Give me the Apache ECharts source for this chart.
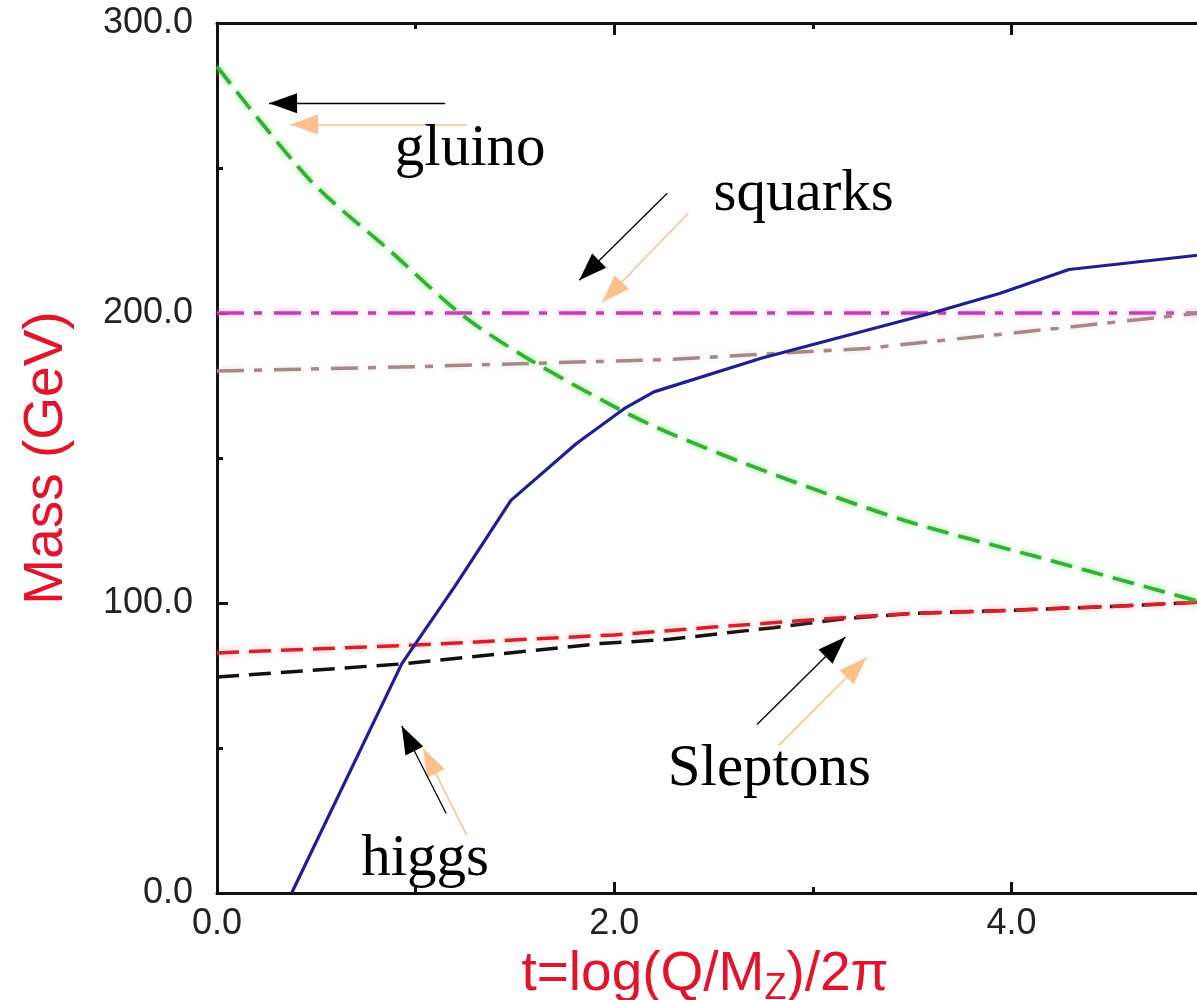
<!DOCTYPE html>
<html>
<head>
<meta charset="utf-8">
<script src="https://cdn.jsdelivr.net/npm/echarts@6/dist/echarts.min.js"></script>
<style>
  html, body { margin: 0; padding: 0; background: #ffffff; overflow: hidden; }
  /* the plot's right edge runs just past the page edge */
  #chart { width: 1210px; height: 1000px; }
</style>
</head>
<body>
<div id="chart"></div>
<script>
// Running masses versus t = log(Q/M_Z)/2pi, each curve as [t, mass in GeV]
const gluino = [[0, 285], [0.47, 245.7], [0.87, 221.5], [1.24, 199], [1.58, 183.7], [2.02, 167], [2.28, 158.5], [2.79, 144.7], [3.46, 128.5], [4.13, 115.9], [4.95, 100.4]];
const higgs = [[0.376, 0], [0.93, 79], [1.2, 106], [1.48, 135.4], [1.81, 155], [2.05, 167], [2.2, 172.8], [2.74, 184.4], [3.6, 200], [3.94, 206.7], [4.29, 215], [4.95, 220]];
const squarkUpper = [[0, 200], [1, 200], [2, 200], [3, 200], [4, 200], [4.95, 200]];
const squarkLower = [[0, 180], [1, 181.5], [1.93, 183.3], [2.28, 184], [3.27, 187.8], [4.23, 194.7], [4.95, 200]];
const sleptonUpper = [[0, 82.8], [1, 85.5], [2, 89], [2.5, 91.7], [3.16, 95], [3.5, 96.4], [4, 97.5], [4.5, 98.8], [4.95, 100.3]];
const sleptonLower = [[0, 74.5], [0.93, 79], [1.93, 86], [2.28, 87.5], [2.8, 91.5], [3.16, 94.6], [3.5, 96.4], [4, 97.5], [4.5, 98.8], [4.95, 100.3]];

// Axis ticks
const xTicks = [0, 2, 4];
const yTicks = [0, 100, 200, 300];

// Annotation names, their anchor points and arrows ([tail, tip]) in data units
const labelNames = ['gluino', 'squarks', 'Sleptons', 'higgs'];
const labelAnchors = [[1.275, 256.5], [2.954, 241], [2.781, 42.7], [1.048, 11.7]];
const arrowsDark = [
  [[1.149, 272.3], [0.262, 272.3]],
  [[2.267, 241.3], [1.824, 211.3]],
  [[2.719, 58.1], [3.164, 88.3]],
  [[1.154, 27.4], [0.930, 57.6]]
];
const arrowsLight = [
  [[1.259, 265], [0.368, 265]],
  [[2.373, 234.4], [1.94, 203.7]],
  [[2.828, 50.9], [3.27, 81.2]],
  [[1.258, 19.9], [1.039, 49.8]]
];

const chart = echarts.init(document.getElementById('chart'), null, { renderer: 'canvas' });

const frameColor = '#111111';
const tickFont = { fontFamily: 'Liberation Sans', fontSize: 36, color: '#222222' };
const titleColor = '#e3132b';

// Each arrow: a plain shaft with a filled triangular head whose tip sits on the end point
function arrowLines(list, color, width) {
  return list.map(function (a) {
    return [
      { coord: a[0], symbol: 'none', lineStyle: { color: color, width: width, type: 'solid' } },
      { coord: a[1], symbol: 'triangle', symbolSize: [20, 28], symbolOffset: [0, 14], itemStyle: { color: color } }
    ];
  });
}

function lineSeries(name, data, color, width, dash, glow, z, smooth) {
  return {
    name: name,
    type: 'line',
    data: data,
    showSymbol: false,
    symbol: 'none',
    smooth: smooth || false,
    z: z,
    lineStyle: {
      color: color,
      width: width,
      type: dash,
      cap: 'butt',
      shadowColor: glow || 'transparent',
      shadowBlur: glow ? 6 : 0
    },
    animation: false
  };
}

function frameAxis(position, tickLen) {
  return {
    type: 'value', position: position,
    axisLine: { show: true, onZero: false, lineStyle: { color: frameColor, width: 3 } },
    axisTick: { show: true, inside: true, length: tickLen, lineStyle: { color: frameColor, width: 3 } },
    minorTick: { show: true, splitNumber: 2, length: 6, lineStyle: { color: frameColor, width: 3 } },
    splitLine: { show: false },
    axisLabel: { show: false }
  };
}

const topAxis = Object.assign(frameAxis('top', 12), { min: 0, max: 5, interval: 2 });
const rightAxis = Object.assign(frameAxis('right', 11), { min: 0, max: 300, interval: 100 });

const option = {
  animation: false,
  backgroundColor: '#ffffff',
  grid: { left: 217, right: 0, top: 23, bottom: 107, containLabel: false, outerBoundsMode: 'none' },
  xAxis: [
    {
      type: 'value', min: 0, max: 5, interval: 2, position: 'bottom',
      name: 't=log(Q/M{sub|Z})/2\u03c0', nameLocation: 'middle', nameGap: 9,
      nameTextStyle: {
        fontFamily: 'Liberation Sans', fontSize: 55, color: titleColor,
        padding: [0, 17, 0, 0],
        rich: { sub: { fontFamily: 'Liberation Sans', fontSize: 36, color: titleColor, padding: [30, 0, 0, 0] } }
      },
      axisLine: { show: true, onZero: false, lineStyle: { color: frameColor, width: 3 } },
      axisTick: { show: true, inside: true, length: 11, lineStyle: { color: frameColor, width: 3 } },
      minorTick: { show: true, splitNumber: 2, length: 6, lineStyle: { color: frameColor, width: 3 } },
      splitLine: { show: false },
      axisLabel: Object.assign({
        margin: 13,
        formatter: function (v) { return xTicks.indexOf(v) >= 0 ? v.toFixed(1) : ''; }
      }, tickFont)
    },
    topAxis
  ],
  yAxis: [
    {
      type: 'value', min: 0, max: 300, interval: 100, position: 'left',
      name: 'Mass (GeV)', nameLocation: 'middle', nameGap: 143, nameRotate: 90,
      nameTextStyle: { fontFamily: 'Liberation Sans', fontSize: 55, color: titleColor },
      axisLine: { show: true, onZero: false, lineStyle: { color: frameColor, width: 3 } },
      axisTick: { show: true, inside: true, length: 11, lineStyle: { color: frameColor, width: 3 } },
      minorTick: { show: true, splitNumber: 2, length: 6, lineStyle: { color: frameColor, width: 3 } },
      splitLine: { show: false },
      axisLabel: Object.assign({
        margin: 24,
        formatter: function (v) { return yTicks.indexOf(v) >= 0 ? v.toFixed(1) : ''; }
      }, tickFont)
    },
    rightAxis
  ],
  series: [
    lineSeries('squarks (upper)', squarkUpper, '#c838b8', 3.5, [27, 10, 8, 12], 'rgba(255,150,230,0.8)', 3),
    lineSeries('squarks (lower)', squarkLower, '#a58888', 3.5, [27, 10, 8, 12], 'rgba(230,200,200,0.6)', 3),
    lineSeries('sleptons (lower)', sleptonLower, '#111111', 3.5, [22, 10], null, 4),
    lineSeries('sleptons (upper)', sleptonUpper, '#d8202c', 3.5, [22, 10], 'rgba(255,120,120,0.6)', 5),
    lineSeries('gluino', gluino, '#34b034', 3.8, [22, 10], 'rgba(110,240,110,0.8)', 6, 0.3),
    Object.assign(lineSeries('higgs', higgs, '#1e1e96', 3.2, 'solid', null, 7), {
      markLine: {
        silent: true,
        animation: false,
        label: { show: false },
        emphasis: { disabled: true },
        data: arrowLines(arrowsLight, '#ffc08a', 1.6).concat(arrowLines(arrowsDark, '#000000', 1.3))
      },
      markPoint: {
        silent: true,
        animation: false,
        symbol: 'circle',
        symbolSize: 1,
        itemStyle: { color: 'rgba(0,0,0,0)' },
        label: {
          show: true,
          position: 'inside',
          formatter: '{b}',
          fontFamily: 'Liberation Serif',
          fontSize: 59,
          color: '#000000',
          align: 'center',
          verticalAlign: 'middle'
        },
        data: labelNames.map(function (n, i) { return { name: n, coord: labelAnchors[i] }; })
      }
    })
  ]
};

chart.setOption(option);
</script>
</body>
</html>
